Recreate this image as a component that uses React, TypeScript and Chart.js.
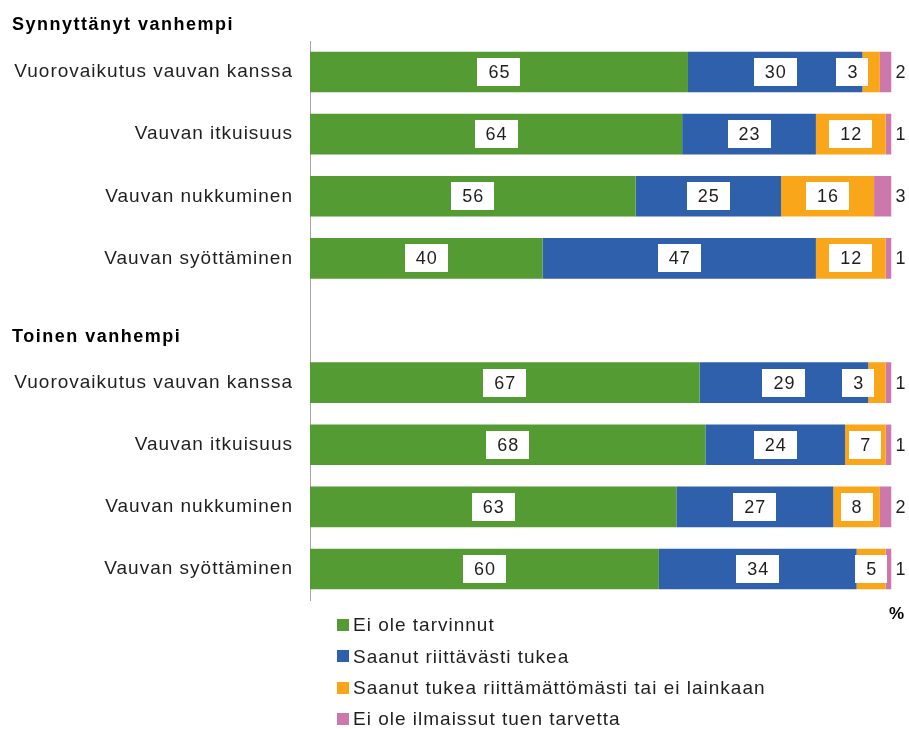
import React, { useEffect, useRef } from 'react';
import { Chart, registerables } from 'chart.js';

Chart.register(...registerables);

const categories = [
  'Vuorovaikutus vauvan kanssa',
  'Vauvan itkuisuus',
  'Vauvan nukkuminen',
  'Vauvan syöttäminen',
  '',
  'Vuorovaikutus vauvan kanssa',
  'Vauvan itkuisuus',
  'Vauvan nukkuminen',
  'Vauvan syöttäminen',
];
const groupTitles = ['Synnyttänyt vanhempi', 'Toinen vanhempi'];
const groupTitleIndex = [0, 4];
const seriesNames = [
  'Ei ole tarvinnut',
  'Saanut riittävästi tukea',
  'Saanut tukea riittämättömästi tai ei lainkaan',
  'Ei ole ilmaissut tuen tarvetta',
];
const eiOleTarvinnut = [65, 64, 56, 40, null, 67, 68, 63, 60];
const riittavasti = [30, 23, 25, 47, null, 29, 24, 27, 34];
const riittamattomasti = [3, 12, 16, 12, null, 3, 7, 8, 5];
const eiIlmaissut = [2, 1, 3, 1, null, 1, 1, 2, 1];
const seriesColors = ['#559B33', '#2F60AB', '#FAA61A', '#CD78AD'];
const unitLabel = '%';

const FONT = "'Liberation Sans', Arial, sans-serif";
const TEXT = '#1f1f1f';

const spacingPlugin = {
  id: 'spacing',
  beforeDraw(chart: any) {
    chart.ctx.letterSpacing = '1px';
  },
};

const labelPlugin = {
  id: 'valueLabels',
  afterDatasetsDraw(chart: any) {
    const ctx = chart.ctx;
    ctx.save();
    ctx.letterSpacing = '1px';
    ctx.font = `18px ${FONT}`;
    ctx.textBaseline = 'middle';
    chart.data.datasets.forEach((ds: any, di: number) => {
      const meta = chart.getDatasetMeta(di);
      meta.data.forEach((el: any, i: number) => {
        const v = ds.data[i];
        if (v == null) return;
        const { x, base, y } = el.getProps(['x', 'base', 'y'], true);
        const txt = String(v);
        if (di === chart.data.datasets.length - 1) {
          ctx.fillStyle = TEXT;
          ctx.textAlign = 'left';
          ctx.fillText(txt, x + 4, y + 1);
          return;
        }
        const tw = ctx.measureText(txt).width;
        const bw = tw + 21;
        const bh = 28;
        let cx = (x + base) / 2;
        if (x - base < bw * 0.75) cx = base + 6 - bw / 2;
        ctx.fillStyle = '#ffffff';
        ctx.fillRect(Math.round(cx - bw / 2), Math.round(y - bh / 2), Math.round(bw), bh);
        ctx.fillStyle = TEXT;
        ctx.textAlign = 'center';
        ctx.fillText(txt, cx + 0.5, y + 1);
      });
    });
    ctx.restore();
  },
};

const decorPlugin = {
  id: 'decor',
  afterDraw(chart: any) {
    const ctx = chart.ctx;
    const yScale = chart.scales.y;
    const area = chart.chartArea;
    ctx.save();
    ctx.letterSpacing = '1.5px';
    ctx.font = `bold 18px ${FONT}`;
    ctx.fillStyle = '#000';
    ctx.textAlign = 'left';
    ctx.textBaseline = 'middle';
    const slot = yScale.getPixelForValue(1) - yScale.getPixelForValue(0);
    ctx.fillText(groupTitles[0], 12, yScale.getPixelForValue(groupTitleIndex[0]) - slot * 0.75);
    ctx.fillText(groupTitles[1], 12, yScale.getPixelForValue(groupTitleIndex[1]) + slot * 0.27);

    // unit label
    ctx.letterSpacing = '0px';
    ctx.font = `bold 17px ${FONT}`;
    ctx.textAlign = 'right';
    ctx.fillText(unitLabel, 904, area.bottom + 14);

    // legend
    ctx.letterSpacing = '1px';
    ctx.font = `19px ${FONT}`;
    ctx.textAlign = 'left';
    chart.data.datasets.forEach((ds: any, i: number) => {
      const cy = area.bottom + 25 + i * 31.3;
      ctx.fillStyle = ds.backgroundColor;
      ctx.fillRect(337, Math.round(cy - 6), 12, 12);
      ctx.fillStyle = TEXT;
      ctx.fillText(ds.label, 353, cy + 1);
    });
    ctx.restore();
  },
};

export default function App() {
  const canvasRef = useRef<HTMLCanvasElement | null>(null);

  useEffect(() => {
    if (!canvasRef.current) return;
    const seriesData = [eiOleTarvinnut, riittavasti, riittamattomasti, eiIlmaissut];
    const chart = new Chart(canvasRef.current, {
      type: 'bar',
      data: {
        labels: categories,
        datasets: seriesData.map((d, i) => ({
          label: seriesNames[i],
          data: d,
          backgroundColor: seriesColors[i],
          borderWidth: 0,
          categoryPercentage: 1,
          barPercentage: 0.654,
        })),
      },
      options: {
        indexAxis: 'y',
        animation: false,
        responsive: true,
        maintainAspectRatio: false,
        layout: { padding: { top: 41, bottom: 129, left: 0, right: 17.5 } },
        plugins: {
          legend: { display: false },
          tooltip: { enabled: false },
        },
        scales: {
          x: {
            stacked: true,
            min: 0,
            max: 100,
            display: false,
          },
          y: {
            stacked: true,
            grid: { display: false, drawTicks: false },
            border: { display: true, color: '#a6a6a6', width: 1 },
            ticks: {
              color: TEXT,
              font: { family: FONT, size: 19 },
              padding: 17,
              autoSkip: false,
            },
            afterFit(scale: any) {
              scale.width = 310;
            },
          },
        },
      } as any,
      plugins: [spacingPlugin, labelPlugin, decorPlugin],
    });
    return () => chart.destroy();
  }, []);

  return (
    <div style={{ position: 'absolute', left: 0, top: 0, width: 909, height: 729, background: '#fff' }}>
      <canvas ref={canvasRef} />
    </div>
  );
}
